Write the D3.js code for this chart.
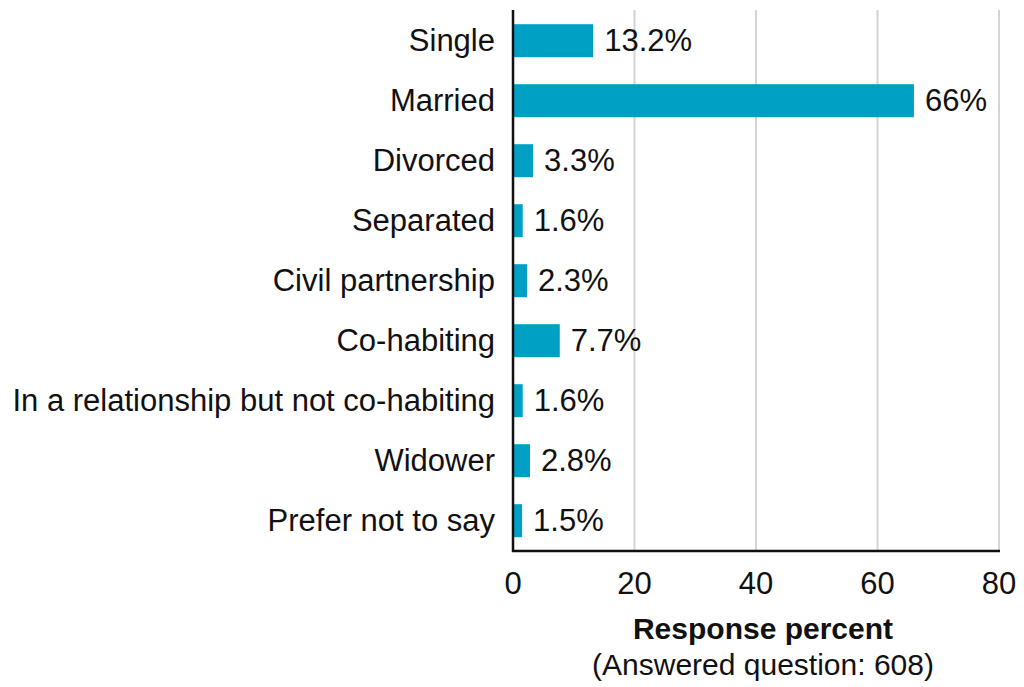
<!DOCTYPE html>
<html><head><meta charset="utf-8">
<script src="https://cdn.jsdelivr.net/npm/d3@7"></script>
<style>body{margin:0;background:#fff}svg{display:block}text{font-family:"Liberation Sans",Arial,sans-serif;fill:#111}</style>
</head><body><svg id="c" width="1024" height="687"></svg>
<script>
const categories = ["Single","Married","Divorced","Separated","Civil partnership","Co-habiting","In a relationship but not co-habiting","Widower","Prefer not to say"];
const values = [13.2,66,3.3,1.6,2.3,7.7,1.6,2.8,1.5];
const valueLabels = ["13.2%","66%","3.3%","1.6%","2.3%","7.7%","1.6%","2.8%","1.5%"];
const xTicks = [0,20,40,60,80];
const xTitle = "Response percent";
const xSubtitle = "(Answered question: 608)";

const svg = d3.select("#c");
const x = d3.scaleLinear().domain([0,80]).range([513,999]);
const y = d3.scaleBand().domain(categories).range([10.7,550.7]).paddingInner(0.45).paddingOuter(0.225);

svg.append("g").selectAll("line").data(xTicks.filter(d=>d>0)).join("line")
  .attr("x1",d=>x(d)).attr("x2",d=>x(d)).attr("y1",10).attr("y2",551)
  .attr("stroke","#d4d4d4").attr("stroke-width",2);

svg.append("g").selectAll("rect").data(values).join("rect")
  .attr("x",x(0)).attr("y",(d,i)=>y(categories[i]))
  .attr("width",d=>x(d)-x(0)).attr("height",y.bandwidth())
  .attr("fill","#00a0c4");

svg.append("g").selectAll("text").data(values).join("text")
  .attr("x",d=>x(d)+11).attr("y",(d,i)=>y(categories[i])+y.bandwidth()/2 - 1)
  .attr("dy","0.36em").attr("font-size",31).text((d,i)=>valueLabels[i]);

svg.append("g").selectAll("text").data(categories).join("text")
  .attr("x",495).attr("y",d=>y(d)+y.bandwidth()/2 - 1).attr("dy","0.36em")
  .attr("text-anchor","end").attr("font-size",31).text(d=>d);

// axes
svg.append("line").attr("x1",x(0)).attr("x2",x(0)).attr("y1",10).attr("y2",552).attr("stroke","#111").attr("stroke-width",2.5);
svg.append("line").attr("x1",x(0)-1).attr("x2",x(80)+1).attr("y1",551).attr("y2",551).attr("stroke","#111").attr("stroke-width",2.5);

svg.append("g").selectAll("text").data(xTicks).join("text")
  .attr("x",d=>x(d)).attr("y",594).attr("text-anchor","middle").attr("font-size",31).text(d=>d);

svg.append("text").attr("x",763).attr("y",639).attr("text-anchor","middle").attr("font-size",30).attr("font-weight","bold").text(xTitle);
svg.append("text").attr("x",763).attr("y",675).attr("text-anchor","middle").attr("font-size",30).text(xSubtitle);
</script></body></html>
